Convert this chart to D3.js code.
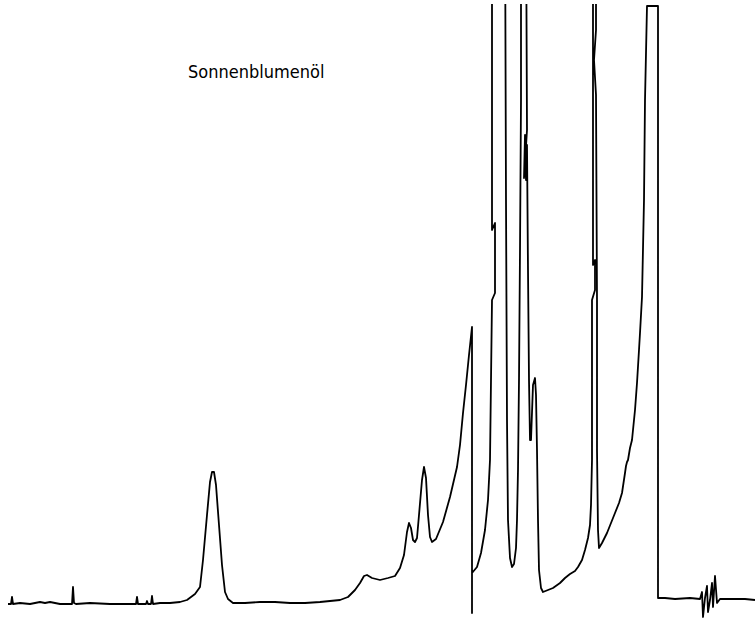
<!DOCTYPE html>
<html>
<head>
<meta charset="utf-8">
<script src="https://cdn.jsdelivr.net/npm/d3@7"></script>
<style>
  body { margin: 0; background: #fff; }
</style>
</head>
<body>
<svg id="chromatogram"></svg>
<script>
// Gas chromatogram of sunflower oil
// time in s, detector signal in mV (values above 600 ran off the paper)
var title = "Sonnenblumenöl";

var time = [
  3, 6, 7, 8, 15, 25, 35, 40, 45, 55, 67, 68, 69, 71, 85, 105, 125, 131, 132, 133,
  141, 142, 143, 146, 147, 148, 155, 165, 175, 182, 190, 195, 198, 202, 205, 207, 209, 211, 214, 217,
  220, 223, 228, 240, 255, 270, 285, 300, 315, 325, 335, 343, 350, 355, 359, 362, 367, 375, 383, 390,
  395, 399, 402, 404, 406, 408, 410, 412, 414, 417, 419, 421, 423, 425, 427, 431, 438, 445, 452, 455,
  458, 461, 464, 467, 467, 467, 472, 476, 480, 483, 485, 486, 487, 490, 490, 487, 487, 500, 501,
  502, 503, 505, 507, 509, 511, 512, 513, 514, 515, 516, 516, 521, 522, 519, 520, 521, 522, 523, 524,
  525, 526, 528, 530, 531, 532, 533, 534, 536, 538, 543, 548, 555, 560, 565, 570, 573, 577, 580, 583,
  585, 586, 587, 587, 590, 590, 588, 588, 588, 591, 591, 589, 591, 592, 592, 593, 594, 597, 602, 606, 610,
  614, 617, 620, 621, 622, 623, 625, 627, 630, 632, 634, 635, 637, 639, 640, 642, 653, 653, 660, 670,
  685, 695, 697, 698, 700, 702, 703, 705, 707, 708, 710, 712, 715, 725, 740, 750
];

var signal = [
  -1, -1, 6, -1, 0, -1, 1, 0, 1, -1, -1, 16, 0, -1, 0, -1, -1, -1, 6, -1,
  -1, 2, -1, -1, 7, -1, 0, 0, 1, 3, 9, 16, 43, 88, 121, 131, 131, 118, 78, 38,
  11, 4, 0, 0, 1, 1, 0, 0, 1, 2, 3, 6, 13, 20, 27, 28, 25, 23, 25, 27,
  35, 48, 71, 80, 75, 63, 61, 65, 88, 123, 136, 125, 88, 66, 61, 64, 81, 106, 136, 158,
  190, 218, 248, 276, -10, 30, 36, 50, 73, 103, 143, 223, 303, 310, 380, 373, 700, 700, 403,
  183, 83, 45, 36, 39, 55, 83, 133, 223, 353, 503, 700, 700, 473, 425, 468, 423, 458, 333, 223,
  163, 163, 218, 225, 208, 153, 83, 33, 15, 11, 13, 15, 20, 25, 29, 32, 36, 43, 53, 65,
  78, 98, 143, 303, 313, 343, 338, 503, 700, 700, 573, 543, 508, 303, 153, 73, 55, 60, 70, 80, 90,
  100, 110, 130, 137, 141, 143, 155, 163, 193, 220, 253, 270, 306, 403, 503, 597, 597, 5, 5, 4,
  5, 4, 11, -14, 5, 17, -9, 3, 20, -4, 27, 0, 4, 4, 4, 3
];

var data = time.map(function(t, i) { return { t: t, v: signal[i] }; });

var width = 755, height = 618;

var svg = d3.select('#chromatogram')
            .attr('width', width)
            .attr('height', height);

var x = d3.scaleLinear()
            .domain([0, 750])
            .range([5, 755]);
var y = d3.scaleLinear()
            .domain([0, 600])
            .range([603, 3]);

// recorder paper edge: pen leaves the chart above full scale
svg.append('clipPath')
    .attr('id', 'paper')
    .append('rect')
    .attr('x', 0)
    .attr('y', y(599))
    .attr('width', width)
    .attr('height', height - y(599));

var line = d3.line()
            .x(d => x(d.t))
            .y(d => y(d.v));

svg.append('path')
    .datum(data)
    .attr('clip-path', 'url(#paper)')
    .attr('d', line)
    .attr('fill', 'none')
    .style('stroke', '#000')
    .style('stroke-width', 1.8)
    .style('stroke-linejoin', 'round');

svg.append('text')
    .attr('x', 188)
    .attr('y', 78)
    .style('font-family', '"DejaVu Sans Condensed", "DejaVu Sans", sans-serif')
    .style('font-size', '18px')
    .style('fill', '#000')
    .text(title);
</script>
</body>
</html>
